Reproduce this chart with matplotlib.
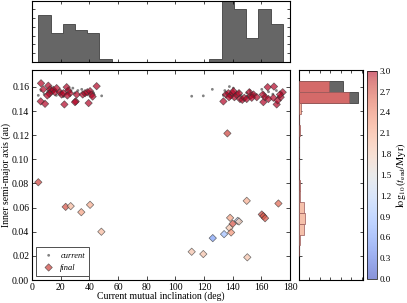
import numpy as np
import matplotlib
matplotlib.use('Agg')
import matplotlib.pyplot as plt
from matplotlib import colors as mcolors

plt.rcParams['font.family'] = ['Liberation Serif', 'DejaVu Serif']
plt.rcParams['mathtext.fontset'] = 'stix'
plt.rcParams['xtick.direction'] = 'in'
plt.rcParams['ytick.direction'] = 'in'
plt.rcParams['xtick.top'] = True
plt.rcParams['ytick.right'] = True
plt.rcParams['axes.linewidth'] = 0.8

# current positions (gray dots)
cur_inc = [4.4, 6.3, 8.5, 11, 13, 15, 17, 20, 22, 23.5, 25, 27, 28.5, 30, 32, 34.7, 37, 40.5, 43, 48.6,
           111.4, 119.5, 125.8, 133.5, 134.5, 136, 137.7, 138, 140.5, 142, 144.4, 146, 149.8, 150.2,
           152, 155, 160.3, 161.5, 163, 165, 168, 170.5, 172, 174]
cur_a = [0.153, 0.157, 0.154, 0.156, 0.155, 0.157, 0.153, 0.156, 0.152, 0.154, 0.158, 0.156, 0.159, 0.155,
         0.157, 0.158, 0.154, 0.156, 0.155, 0.1526,
         0.1523, 0.1526, 0.158, 0.153, 0.157, 0.155, 0.1603, 0.152, 0.159, 0.154, 0.156, 0.153, 0.155, 0.152,
         0.157, 0.154, 0.158, 0.155, 0.152, 0.156, 0.154, 0.157, 0.152, 0.155]

# final positions (diamonds) and log10(t_end/Myr)
fin_inc = [4.4, 23.5, 27, 34.4, 40.5, 48.4,
           149.8, 171.9, 160.3, 161.4, 162.6, 138.2, 143.5, 144.4, 140, 137.7, 138.9, 134, 126.1,
           111.4, 119.5, 150.2, 136.3,
           6.3, 7.9, 6.1, 9.1, 11.4, 12.6, 13.7, 14.9, 16, 12.1, 10.7, 17.2, 19.5, 20.7, 21.9, 22.6,
           24.2, 25.4, 26.5, 24.7, 30.5, 30, 31.2, 35.4, 37, 38.6, 40.5, 41.6, 39.5, 45.1, 42.3,
           133.5, 135.3, 137, 138.6, 140, 141.2, 142.8, 144.4, 145.1, 146.7, 148.1, 149.8, 151.6,
           152.6, 154.5, 156.8, 153.3, 161, 161.4, 162.6, 164.4, 168.8, 164.9, 168.4, 170.7, 171.4,
           173.5, 174.9, 173, 140.5, 137.4]
fin_a = [0.081, 0.0606, 0.0612, 0.0562, 0.0623, 0.040,
         0.0656, 0.0634, 0.0543, 0.0529, 0.0512, 0.0515, 0.049, 0.0485, 0.0466, 0.0432, 0.0394, 0.038, 0.0347,
         0.0234, 0.0215, 0.0188, 0.1215,
         0.163, 0.158, 0.148, 0.146, 0.161, 0.158, 0.1565, 0.1576, 0.1556, 0.1543, 0.1529, 0.159, 0.1556,
         0.1537, 0.1548, 0.1455, 0.1598, 0.157, 0.1548, 0.1529, 0.148, 0.1474, 0.1537, 0.1537, 0.1548,
         0.1556, 0.1565, 0.1537, 0.1466, 0.1606, 0.152,
         0.148, 0.1537, 0.1548, 0.1529, 0.1548, 0.1515, 0.1535, 0.1548, 0.150, 0.1493, 0.151, 0.150, 0.1556,
         0.1529, 0.1537, 0.1515, 0.151, 0.1537, 0.1474, 0.1515, 0.1598, 0.1603, 0.150, 0.151, 0.1455, 0.1488,
         0.1515, 0.1556, 0.1537, 0.1565, 0.1515]
fin_logt = [2.8, 2.7, 2.0, 2.2, 2.1, 2.0,
            2.1, 2.6, 2.8, 2.7, 2.7, 2.2, 1.2, 1.8, 2.7, 1.9, 2.3, 0.9, 0.6,
            1.9, 1.9, 1.9, 2.8] + [3.0] * 31 + [3.0] * 31

# top histogram: current inclination
inc_edges = [4.4 + 8.53 * k for k in range(21)]
inc_counts = [16, 10, 13, 11, 10, 1, 0, 0, 0, 0, 0, 0, 0, 0, 1, 23, 18, 8, 18, 13]

# right histogram: semi-major axis (current gray, final red)
a_edges = [0.0195 + 0.0091 * k for k in range(17)]
a_cur_counts = [0, 0, 0, 0, 0, 0, 0, 0, 0, 0, 0, 0, 0, 0, 56, 42]
a_fin_counts = [0, 1, 5, 6, 5, 1, 1, 0, 0, 0, 0, 1, 0, 2, 48, 29]
a_fin_logt = [2.0, 2.0, 2.0, 2.0, 2.0, 2.0, 2.6, 2.0, 2.0, 2.0, 2.0, 2.6, 2.0, 2.2, 2.9, 2.9]

cmap = plt.get_cmap('coolwarm')
norm = mcolors.Normalize(vmin=0.0, vmax=3.0)

fig = plt.figure(figsize=(4.07, 3.03), dpi=100)
ax = fig.add_axes([0.0786, 0.0759, 0.634, 0.693])
ax_top = fig.add_axes([0.0786, 0.795, 0.634, 0.203])
ax_right = fig.add_axes([0.7346, 0.0759, 0.157, 0.693])
cax = fig.add_axes([0.9017, 0.0792, 0.0246, 0.687])

ax.scatter(cur_inc, cur_a, s=4, c='0.3', alpha=0.7, edgecolors='none', label='current', zorder=2)
sc = ax.scatter(fin_inc, fin_a, s=14, c=fin_logt, cmap=cmap, norm=norm, marker='D', alpha=0.7,
                edgecolors='0.2', linewidths=0.5, label='final', zorder=3)
ax.set_xlim(0, 180)
ax.set_ylim(0, 0.174)
ax.set_xticks(np.arange(0, 181, 20))
ax.set_yticks(np.arange(0, 0.17, 0.02))
ax.set_yticklabels(['%.2f' % v for v in np.arange(0, 0.17, 0.02)])
ax.tick_params(labelsize=7, length=3, width=0.5, pad=2)
ax.set_xlabel('Current mutual inclination (deg)', fontsize=7, labelpad=0)
ax.set_ylabel('Inner semi-major axis (au)', fontsize=7, labelpad=1)
leg = ax.legend(loc='lower left', scatterpoints=1, fontsize=6, fancybox=False, framealpha=1,
                edgecolor='0.2', borderpad=0.5, handletextpad=0.4)
leg.get_frame().set_linewidth(0.6)
for t in leg.get_texts():
    t.set_fontstyle('italic')

ax_top.hist(inc_edges[:-1], bins=inc_edges, weights=inc_counts, histtype='stepfilled',
            facecolor='0.4', edgecolor='0.25', linewidth=0.6)
ax_top.set_xlim(0, 180)
ax_top.set_ylim(0, 20.8)
ax_top.set_xticks(np.arange(0, 181, 20))
ax_top.set_yticks(np.arange(0, 21, 3))
ax_top.tick_params(labelbottom=False, labelleft=False, length=2.5, width=0.5)

ax_right.hist(a_edges[:-1], bins=a_edges, weights=a_cur_counts, orientation='horizontal',
              histtype='stepfilled', facecolor='0.4', edgecolor='0.25', linewidth=0.6)
# final histogram colours: colormap faded toward white like the scatter alpha
fin_colors = []
for v in a_fin_logt:
    r, g, b, _ = cmap(norm(v))
    fin_colors.append((0.6 * r + 0.4 * 0.95, 0.6 * g + 0.4 * 0.8, 0.6 * b + 0.4 * 0.75))
ax_right.barh(a_edges[:-1], a_fin_counts, height=0.0091, align='edge', color=fin_colors,
              edgecolor=(0.6, 0.35, 0.35), linewidth=0.5, zorder=3)
ax_right.set_ylim(0, 0.174)
ax_right.set_xlim(0, 61)
ax_right.set_xticks(np.arange(0, 61, 10))
ax_right.set_yticks(np.arange(0, 0.17, 0.02))
ax_right.tick_params(labelbottom=False, labelleft=False, length=2.5, width=0.5)

cb = fig.colorbar(sc, cax=cax)
cb.solids.set_alpha(0.6)
cb.set_ticks(np.arange(0, 3.01, 0.3))
cb.set_ticklabels(['%.1f' % v for v in np.arange(0, 3.01, 0.3)])
cb.ax.tick_params(labelsize=6.5, length=0, pad=2)
cb.outline.set_linewidth(0.5)
cb.set_label(r'$\log_{10}(t_{\rm end}/{\rm Myr})$', fontsize=7.5, labelpad=2)

fig.savefig('out.png', dpi=100)
